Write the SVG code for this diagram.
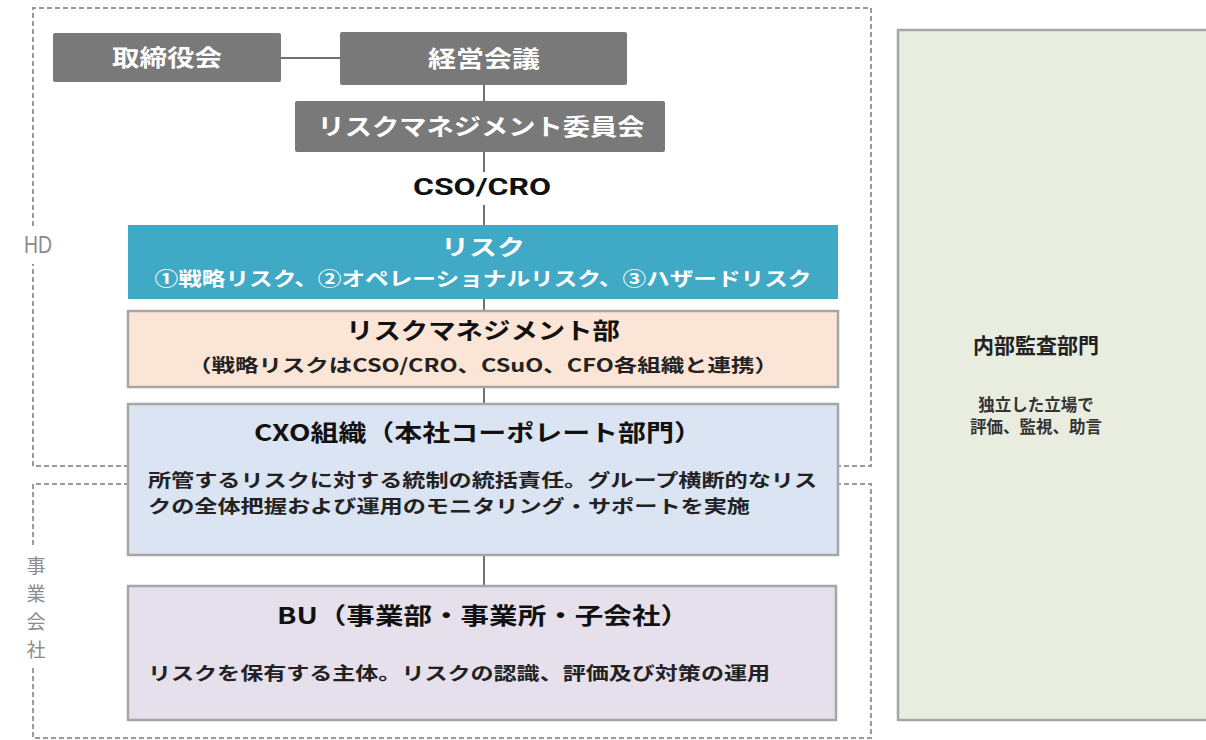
<svg xmlns="http://www.w3.org/2000/svg" width="1206" height="740" viewBox="0 0 1206 740">
<style>
.jp{font-family:"Noto Sans CJK JP","Noto Sans",sans-serif;font-weight:bold}
.dash{fill:none;stroke:#9a9a9a;stroke-width:2;stroke-dasharray:5 3}
.gray rect{fill:#797979}
.gray text{fill:#ffffff;font-size:23px}
.box{stroke:#a6a6a6;stroke-width:2.5}
.conn line{stroke:#707070;stroke-width:2}
.lbl{font-family:"Noto Sans CJK JP","Noto Sans",sans-serif;fill:#8c8c8c;font-size:19px}
</style>
<rect width="1206" height="740" fill="#ffffff"/>
<g id="hd-frame">
<path class="dash" d="M33,226 V8 H871 V466 H33 V264"/>
<text x="24" y="253" textLength="28" lengthAdjust="spacingAndGlyphs" style="font-family:'Liberation Sans',sans-serif;font-size:24px;fill:#8c8c8c">HD</text>
</g>
<g id="bu-frame">
<path class="dash" d="M33,545 V484 H871 V738 H33 V668"/>
<text class="lbl" x="36" y="573" text-anchor="middle">事</text>
<text class="lbl" x="36" y="601" text-anchor="middle">業</text>
<text class="lbl" x="36" y="629" text-anchor="middle">会</text>
<text class="lbl" x="36" y="657" text-anchor="middle">社</text>
</g>
<g class="conn" id="connectors">
<line x1="281" y1="58" x2="340" y2="58"/>
<line x1="484" y1="85" x2="484" y2="101"/>
<line x1="484" y1="152" x2="484" y2="172"/>
<line x1="484" y1="205" x2="484" y2="226"/>
<line x1="484" y1="299" x2="484" y2="311"/>
<line x1="484" y1="387" x2="484" y2="404"/>
<line x1="484" y1="555" x2="484" y2="586"/>
</g>
<g id="board" class="gray">
<rect x="53" y="33" width="228" height="49" rx="2"/>
<text class="jp" x="167" y="66" text-anchor="middle" textLength="110" lengthAdjust="spacingAndGlyphs">取締役会</text>
</g>
<g id="mgmt" class="gray">
<rect x="340" y="32" width="287" height="53" rx="2"/>
<text class="jp" x="484" y="67" text-anchor="middle" textLength="112" lengthAdjust="spacingAndGlyphs">経営会議</text>
</g>
<g id="committee" class="gray">
<rect x="295" y="101" width="370" height="51" rx="2"/>
<text class="jp" x="481" y="135" text-anchor="middle" textLength="327" lengthAdjust="spacingAndGlyphs">リスクマネジメント委員会</text>
</g>
<g id="cso">
<text x="482" y="195" text-anchor="middle" style="font-family:'Roboto','Liberation Sans',sans-serif;font-weight:bold;font-size:24px;fill:#111" textLength="138" lengthAdjust="spacingAndGlyphs">CSO/CRO</text>
</g>
<g id="risk">
<rect x="128" y="225" width="710" height="74" fill="#3fa9c6"/>
<text class="jp" x="483" y="255" text-anchor="middle" style="fill:#fff;font-size:22px" textLength="84" lengthAdjust="spacingAndGlyphs">リスク</text>
<text class="jp" x="483" y="286" text-anchor="middle" style="fill:#fff;font-size:19px" textLength="657" lengthAdjust="spacingAndGlyphs">①戦略リスク、②オペレーショナルリスク、③ハザードリスク</text>
</g>
<g id="rm-dept">
<rect class="box" x="128" y="311" width="710" height="76" fill="#fbe5d6"/>
<text class="jp" x="483" y="339" text-anchor="middle" style="fill:#111;font-size:23px" textLength="274" lengthAdjust="spacingAndGlyphs">リスクマネジメント部</text>
<text class="jp" x="483" y="372" text-anchor="middle" style="fill:#222;font-size:18px" textLength="590" lengthAdjust="spacingAndGlyphs">（戦略リスクはCSO/CRO、CSuO、CFO各組織と連携）</text>
</g>
<g id="cxo">
<rect class="box" x="128" y="404" width="710" height="151" fill="#dbe4f2"/>
<text class="jp" x="478" y="441" text-anchor="middle" style="fill:#111;font-size:23px" textLength="448" lengthAdjust="spacingAndGlyphs">CXO組織（本社コーポレート部門）</text>
<text class="jp" x="148" y="487" style="fill:#222;font-size:18px" textLength="669" lengthAdjust="spacingAndGlyphs">所管するリスクに対する統制の統括責任。グループ横断的なリス</text>
<text class="jp" x="148" y="513" style="fill:#222;font-size:18px" textLength="602" lengthAdjust="spacingAndGlyphs">クの全体把握および運用のモニタリング・サポートを実施</text>
</g>
<g id="bu">
<rect class="box" x="128" y="586" width="708" height="134" fill="#e5e0ec"/>
<text class="jp" x="483" y="624" text-anchor="middle" style="fill:#111;font-size:23px" textLength="412" lengthAdjust="spacingAndGlyphs">BU（事業部・事業所・子会社）</text>
<text class="jp" x="148" y="680" style="fill:#222;font-size:18px" textLength="622" lengthAdjust="spacingAndGlyphs">リスクを保有する主体。リスクの認識、評価及び対策の運用</text>
</g>
<g id="audit">
<rect class="box" x="898" y="30" width="320" height="690" fill="#e9eddf"/>
<text class="jp" x="1036" y="353" text-anchor="middle" style="fill:#222;font-size:21px">内部監査部門</text>
<text class="jp" x="1036" y="411" text-anchor="middle" style="fill:#333;font-size:16.5px">独立した立場で</text>
<text class="jp" x="1036" y="433" text-anchor="middle" style="fill:#333;font-size:16.5px">評価、監視、助言</text>
</g>
</svg>
